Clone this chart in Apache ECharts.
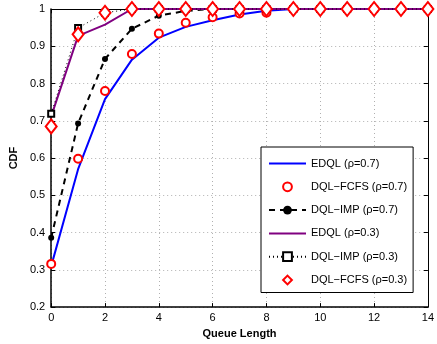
<!DOCTYPE html>
<html>
<head>
<meta charset="utf-8">
<script src="https://cdn.jsdelivr.net/npm/echarts@6/dist/echarts.min.js"></script>
<style>
  html, body { margin: 0; padding: 0; background: #fff; }
  #chart { width: 437px; height: 344px; }
</style>
</head>
<body>
<div id="chart"></div>
<script>
// queue lengths 0..14
var queueLen = [0, 1, 2, 3, 4, 5, 6, 7, 8, 9, 10, 11, 12, 13, 14];

// CDF values
var edql07    = [0.31, 0.57, 0.758, 0.864, 0.923, 0.952, 0.97, 0.985, 0.995, 1, 1, 1, 1, 1, 1];
var fcfs07    = [0.316, 0.598, 0.78, 0.879, 0.934, 0.963, 0.978, 0.988, 0.99, 1, 1, 1, 1, 1, 1];
var imp07     = [0.386, 0.693, 0.866, 0.947, 0.982, 0.995, 1, 1, 1, 1, 1, 1, 1, 1, 1];
var edql03    = [0.712, 0.928, 0.958, 1, 1, 1, 1, 1, 1, 1, 1, 1, 1, 1, 1];
var imp03     = [0.719, 0.949, 0.99, 1, 1, 1, 1, 1, 1, 1, 1, 1, 1, 1, 1];
var fcfs03    = [0.685, 0.932, 0.99, 1, 1, 1, 1, 1, 1, 1, 1, 1, 1, 1, 1];

var names = ['EDQL (ρ=0.7)', 'DQL−FCFS (ρ=0.7)', 'DQL−IMP (ρ=0.7)', 'EDQL (ρ=0.3)', 'DQL−IMP (ρ=0.3)', 'DQL−FCFS (ρ=0.3)'];

function pairs(ys) {
  return queueLen.map(function (x, i) { return [x, ys[i]]; });
}

var font = 'Liberation Sans, Arial, sans-serif';
var myChart = echarts.init(document.getElementById('chart'));

var gridLine = { show: true, lineStyle: { color: '#b0b0b0', type: [1, 3], width: 1 } };

var options = {
  animation: false,
  grid: { left: 51, right: 5, top: 9, bottom: 35, containLabel: false },
  xAxis: [{
    type: 'value', min: 0, max: 14, interval: 2,
    name: 'Queue Length', nameLocation: 'middle', nameGap: 13,
    nameTextStyle: { fontFamily: font, fontSize: 11, fontWeight: 'bold', color: '#000' },
    axisLine: { show: true, onZero: false, lineStyle: { color: '#000', width: 1.5 } },
    axisTick: { show: true, inside: true, length: 4, lineStyle: { color: '#000' } },
    axisLabel: { fontFamily: font, fontSize: 11, color: '#000', margin: 5 },
    splitLine: gridLine
  }, {
    type: 'value', min: 0, max: 14, interval: 2, position: 'top',
    axisLine: { show: true, onZero: false, lineStyle: { color: '#000', width: 1 } },
    axisTick: { show: true, inside: true, length: 4, lineStyle: { color: '#000' } },
    axisLabel: { show: false }, splitLine: { show: false }
  }],
  yAxis: [{
    type: 'value', min: 0.2, max: 1, interval: 0.1,
    name: 'CDF', nameLocation: 'middle', nameGap: 27, nameRotate: 90,
    nameTextStyle: { fontFamily: font, fontSize: 11, fontWeight: 'bold', color: '#000' },
    axisLine: { show: true, onZero: false, lineStyle: { color: '#000', width: 1.5 } },
    axisTick: { show: true, inside: true, length: 4, lineStyle: { color: '#000' } },
    axisLabel: {
      fontFamily: font, fontSize: 11, color: '#000', margin: 6,
      formatter: function (v) { return String(Math.round(v * 10) / 10); }
    },
    splitLine: gridLine
  }, {
    type: 'value', min: 0.2, max: 1, interval: 0.1, position: 'right',
    axisLine: { show: true, onZero: false, lineStyle: { color: '#000', width: 1 } },
    axisTick: { show: true, inside: true, length: 4, lineStyle: { color: '#000' } },
    axisLabel: { show: false }, splitLine: { show: false }
  }],
  legend: {
    orient: 'vertical', left: 261, top: 147,
    backgroundColor: '#fff', borderColor: '#000', borderWidth: 1, borderRadius: 0,
    padding: [11, 6, 7, 7],
    itemWidth: 37, itemHeight: 11, itemGap: 12.3,
    textStyle: { fontFamily: font, fontSize: 11, color: '#000' },
    data: [
      { name: names[0], itemStyle: { opacity: 0 } },
      { name: names[1] },
      { name: names[2] },
      { name: names[3], itemStyle: { opacity: 0 } },
      { name: names[4], itemStyle: { borderWidth: 3 } },
      { name: names[5], itemStyle: { borderWidth: 2.5 } }
    ]
  },
  series: [{
    name: names[0], type: 'line', data: pairs(edql07), clip: false,
    symbol: 'none', lineStyle: { color: '#0000ff', width: 2 }, itemStyle: { color: '#0000ff' }, z: 2
  }, {
    name: names[1], type: 'line', data: pairs(fcfs07), clip: false,
    symbol: 'emptyCircle', symbolSize: 8,
    lineStyle: { width: 0 }, itemStyle: { color: '#ff0000', borderColor: '#ff0000', borderWidth: 2 }, z: 3
  }, {
    name: names[2], type: 'line', data: pairs(imp07), clip: false,
    symbol: 'circle', symbolSize: 6,
    lineStyle: { color: '#000', width: 2, type: [6, 5] }, itemStyle: { color: '#000' }, z: 4
  }, {
    name: names[3], type: 'line', data: pairs(edql03), clip: false,
    symbol: 'none', lineStyle: { color: '#800080', width: 2 }, itemStyle: { color: '#800080' }, z: 5
  }, {
    name: names[4], type: 'line', data: pairs(imp03), clip: false,
    symbol: 'emptyRect', symbolSize: 6,
    lineStyle: { color: '#000', width: 1, type: [1, 3] },
    itemStyle: { color: '#000', borderColor: '#000', borderWidth: 2 }, z: 6
  }, {
    name: names[5], type: 'line', data: pairs(fcfs03), clip: false,
    symbol: 'emptyDiamond', symbolSize: [11, 14],
    lineStyle: { width: 0 }, itemStyle: { color: '#ff0000', borderColor: '#ff0000', borderWidth: 2 }, z: 7
  }]
};

myChart.setOption(options);
</script>
</body>
</html>
